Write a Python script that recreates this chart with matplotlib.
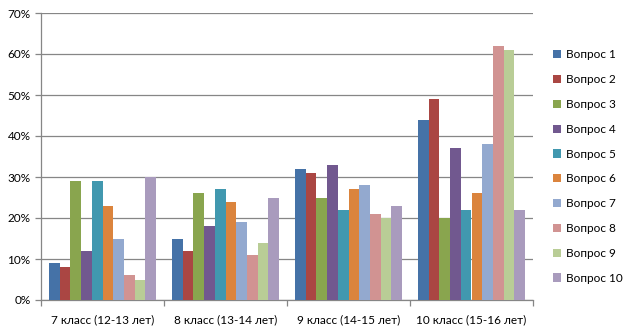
import numpy as np
import matplotlib.pyplot as plt
from matplotlib.patches import Patch
from matplotlib.ticker import PercentFormatter

plt.rcParams['font.family'] = ['Lato', 'DejaVu Sans']

groups = ['7 класс (12-13 лет)', '8 класс (13-14 лет)', '9 класс (14-15 лет)', '10 класс (15-16 лет)']
questions = ['Вопрос %d' % i for i in range(1, 11)]

# share of answers per question, percent
q1 = [9, 15, 32, 44]
q2 = [8, 12, 31, 49]
q3 = [29, 26, 25, 20]
q4 = [12, 18, 33, 37]
q5 = [29, 27, 22, 22]
q6 = [23, 24, 27, 26]
q7 = [15, 19, 28, 38]
q8 = [6, 11, 21, 62]
q9 = [5, 14, 20, 61]
q10 = [30, 25, 23, 22]
series = [q1, q2, q3, q4, q5, q6, q7, q8, q9, q10]

colors = ['#4572A7', '#AA4643', '#89A54E', '#71588F', '#4198AF',
          '#DB843D', '#93A9CF', '#D19392', '#B9CD96', '#A99BBD']

fig = plt.figure(figsize=(6.33, 3.28), dpi=100)
ax = fig.add_axes([41 / 633, 28 / 328, 492 / 633, 287 / 328])

n = len(series)
w = 1 / (n + 1.5)
x = np.arange(len(groups))
for i, vals in enumerate(series):
    ax.bar(x - 0.5 + 0.75 * w + i * w + w / 2, vals, width=w, color=colors[i],
           align='center', zorder=3, linewidth=0)

ax.set_xlim(-0.5, len(groups) - 0.5)
ax.set_ylim(0, 70)
ax.set_yticks(range(0, 71, 10))
ax.yaxis.set_major_formatter(PercentFormatter(decimals=0))
ax.yaxis.grid(True, color='#868686', linewidth=0.9, zorder=0)

ax.set_xticks(x)
ax.set_xticklabels(groups)
ax.set_xticks(np.arange(-0.5, len(groups)), minor=True)
ax.tick_params(axis='x', which='major', length=0, pad=10, labelsize=8.5)
ax.tick_params(axis='x', which='minor', length=4, color='#868686', width=0.9)
ax.tick_params(axis='y', length=4, color='#868686', width=0.9, labelsize=8.5)

for s in ['top', 'right']:
    ax.spines[s].set_visible(False)
for s in ['left', 'bottom']:
    ax.spines[s].set_color('#868686')
    ax.spines[s].set_linewidth(0.9)

handles = [Patch(facecolor=c, edgecolor='none') for c in colors]
fig.legend(handles, questions, loc='center left', bbox_to_anchor=(542 / 633, 1 - 166.5 / 328),
           frameon=False, fontsize=8.5, handlelength=0.7, handleheight=0.7,
           handletextpad=0.4, labelspacing=1.17)

fig.savefig('out.png', dpi=100)
